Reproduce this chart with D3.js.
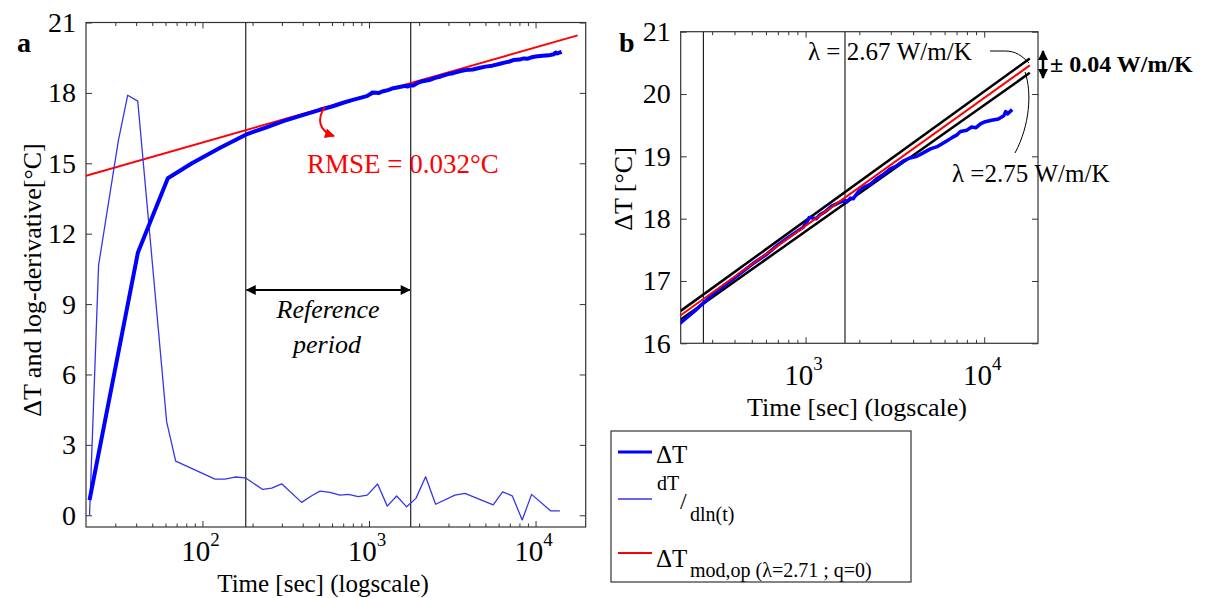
<!DOCTYPE html>
<html><head><meta charset="utf-8">
<script src="https://cdn.jsdelivr.net/npm/d3@7"></script>
<style>
html,body{margin:0;padding:0;background:#fff;}
svg{display:block;font-family:"Liberation Serif","Times New Roman",serif;}
svg text{font-family:"Liberation Serif","Times New Roman",serif;}
</style></head>
<body>
<svg id="chart" width="1214" height="598"></svg>
<script>
// ---------- DATA ----------
const dTTime = [21, 41, 62, 86.5, 127, 182, 200, 240, 306, 400, 508, 600, 700, 800, 900, 968, 1020, 1050, 1100, 1150, 1200, 1300, 1400, 1500, 1656, 1700, 1780, 1850, 1900, 2000, 2100, 2300, 2500, 2700, 2980, 3200, 3500, 3800, 4200, 4581, 5000, 5500, 6197, 6600, 7000, 7356, 8000, 8500, 9000, 9522, 10000, 11000, 12000, 12864, 13200, 13500, 14333];
const dTVal = [0.65, 11.2, 14.36, 15.0, 15.65, 16.22, 16.33, 16.52, 16.8, 17.05, 17.28, 17.42, 17.58, 17.7, 17.8, 17.86, 17.95, 18.02, 18.01, 18.0, 18.06, 18.12, 18.2, 18.24, 18.3, 18.27, 18.33, 18.32, 18.37, 18.45, 18.5, 18.55, 18.64, 18.7, 18.8, 18.84, 18.92, 18.97, 19.0, 19.06, 19.12, 19.16, 19.25, 19.3, 19.34, 19.4, 19.42, 19.47, 19.46, 19.52, 19.55, 19.58, 19.6, 19.65, 19.72, 19.68, 19.75];

const derivTime = [21, 23.8, 31.3, 35.6, 40.9, 61, 69.1, 119, 136.5, 156.7, 181.8, 230, 260.5, 299, 394, 453, 508, 583, 669, 751, 862, 976, 1127, 1287, 1466, 1683, 1913, 2188, 2512, 3281, 3767, 5568, 6342, 7241, 8315, 9467, 12310, 14000];
const derivVal = [0.0, 10.65, 15.98, 17.9, 17.65, 3.98, 2.31, 1.54, 1.54, 1.63, 1.59, 1.10, 1.16, 1.34, 0.55, 0.83, 1.03, 0.98, 0.86, 0.89, 0.79, 0.86, 1.33, 0.39, 0.82, 0.36, 0.72, 1.64, 0.47, 0.86, 0.93, 0.44, 1.0, 0.83, -0.2, 0.89, 0.19, 0.19];

// model line (panel a) endpoints
const modelATime = [20, 17900];
const modelAVal = [14.47, 20.45];
// panel b fitted lines endpoints
const fitBTime = [200, 18000];
const fitRedVal = [16.45, 20.46];
const fitHighVal = [16.52, 20.57];   // lambda = 2.67
const fitLowVal = [16.38, 20.34];    // lambda = 2.75

const refA = [182, 1780];
const refB = [268, 1662];

const yTicksA = [0, 3, 6, 9, 12, 15, 18, 21];
const yTicksB = [16, 17, 18, 19, 20, 21];
const xMajorA = [100, 1000, 10000];
const xMajorB = [1000, 10000];

// ---------- DRAW ----------
const svg = d3.select("#chart");
const AX = "#333";
const FONT = '"Liberation Serif","Times New Roman",serif';

const xA = d3.scaleLog().domain([20, 20000]).range([86, 585.7]);
const yA = d3.scaleLinear().domain([-0.5, 21]).range([527, 22.5]);
const xB = d3.scaleLog().domain([200, 20000]).range([680.7, 1038]);
const yB = d3.scaleLinear().domain([16, 21]).range([343.3, 31.7]);

const defs = svg.append("defs");
function clip(id, x, y) {
  defs.append("clipPath").attr("id", id).append("rect")
    .attr("x", x.range()[0]).attr("y", y.range()[1])
    .attr("width", x.range()[1] - x.range()[0]).attr("height", y.range()[0] - y.range()[1]);
}
clip("clipA", xA, yA); clip("clipB", xB, yB);

function minorTicks(x) {
  const [a, b] = x.domain();
  const out = [];
  for (let p = Math.floor(Math.log10(a)); p <= Math.ceil(Math.log10(b)); p++) {
    for (let m = 2; m <= 9; m++) {
      const v = m * Math.pow(10, p);
      if (v > a && v < b) out.push(v);
    }
  }
  return out;
}

function frame(x, y, yTicks, xMajor, yFont, xLabBase) {
  const g = svg.append("g");
  const x0 = x.range()[0], x1 = x.range()[1], y0 = y.range()[0], y1 = y.range()[1];
  const bottom = g.append("g").attr("transform", `translate(0,${y0})`)
    .call(d3.axisBottom(x).tickValues(xMajor).tickSize(-6).tickFormat(""));
  const bottomMin = g.append("g").attr("transform", `translate(0,${y0})`)
    .call(d3.axisBottom(x).tickValues(minorTicks(x)).tickSize(-3.5).tickFormat(""));
  const top = g.append("g").attr("transform", `translate(0,${y1})`)
    .call(d3.axisTop(x).tickValues(xMajor).tickSize(-6).tickFormat(""));
  const topMin = g.append("g").attr("transform", `translate(0,${y1})`)
    .call(d3.axisTop(x).tickValues(minorTicks(x)).tickSize(-3.5).tickFormat(""));
  const left = g.append("g").attr("transform", `translate(${x0},0)`)
    .call(d3.axisLeft(y).tickValues(yTicks).tickSize(-6).tickPadding(10).tickFormat(d3.format("d")));
  const right = g.append("g").attr("transform", `translate(${x1},0)`)
    .call(d3.axisRight(y).tickValues(yTicks).tickSize(-6).tickFormat(""));
  [bottom, bottomMin, top, topMin, left, right].forEach(a => {
    a.attr("font-family", FONT);
    a.select(".domain").remove();
    a.selectAll("line").attr("stroke", AX).attr("stroke-width", 1);
  });
  left.selectAll("text").attr("font-size", yFont).attr("fill", "#000");
  g.append("rect").attr("x", x0).attr("y", y1).attr("width", x1 - x0).attr("height", y0 - y1)
    .attr("fill", "none").attr("stroke", AX).attr("stroke-width", 1.2);
  xMajor.forEach(v => {
    const t = g.append("text").attr("x", x(v) - 2).attr("y", xLabBase)
      .attr("text-anchor", "middle").attr("font-size", 29).attr("fill", "#000");
    t.append("tspan").text("10");
    t.append("tspan").attr("dy", -15).attr("font-size", 19).text(Math.round(Math.log10(v)));
  });
  return g;
}

function pts(ts, vs) { return ts.map((t, i) => [t, vs[i]]); }

// ---------------- Panel A ----------------
frame(xA, yA, yTicksA, xMajorA, 28, 561);
const pA = svg.append("g").attr("clip-path", "url(#clipA)");
const lineA = d3.line().x(d => xA(d[0])).y(d => yA(d[1]));
refA.forEach(t => pA.append("line").attr("x1", xA(t)).attr("x2", xA(t))
  .attr("y1", yA.range()[0]).attr("y2", yA.range()[1]).attr("stroke", "#222").attr("stroke-width", 1.2));
pA.append("path").datum(pts(modelATime, modelAVal)).attr("d", lineA)
  .attr("fill", "none").attr("stroke", "#ff0000").attr("stroke-width", 2);
pA.append("path").datum(pts(derivTime, derivVal)).attr("d", lineA)
  .attr("fill", "none").attr("stroke", "#3535ea").attr("stroke-width", 1.3).attr("stroke-linejoin", "round");
pA.append("path").datum(pts(dTTime, dTVal)).attr("d", lineA)
  .attr("fill", "none").attr("stroke", "#0000ff").attr("stroke-width", 4).attr("stroke-linejoin", "round");

function marker(id, color, w, h) {
  defs.append("marker").attr("id", id).attr("viewBox", "0 0 10 10").attr("refX", 9).attr("refY", 5)
    .attr("markerWidth", w).attr("markerHeight", h).attr("orient", "auto-start-reverse")
    .attr("markerUnits", "userSpaceOnUse")
    .append("path").attr("d", "M0,0 L10,5 L0,10 z").attr("fill", color);
}
marker("arrBlack", "#000", 14, 10);
marker("arrRed", "#ff0000", 12, 10);
marker("arrBig", "#000", 10, 12);

svg.append("line").attr("x1", xA(refA[0]) + 1).attr("x2", xA(refA[1]) - 1)
  .attr("y1", 290).attr("y2", 290).attr("stroke", "#000").attr("stroke-width", 2)
  .attr("marker-start", "url(#arrBlack)").attr("marker-end", "url(#arrBlack)");
svg.append("text").attr("x", 328).attr("y", 318).attr("text-anchor", "middle")
  .attr("font-style", "italic").attr("font-size", 26).text("Reference");
svg.append("text").attr("x", 327).attr("y", 353).attr("text-anchor", "middle")
  .attr("font-style", "italic").attr("font-size", 26).text("period");

svg.append("path").attr("d", "M325,107 C317,118 318,131 334,136")
  .attr("fill", "none").attr("stroke", "#ff0000").attr("stroke-width", 2)
  .attr("marker-end", "url(#arrRed)");
svg.append("text").attr("x", 307).attr("y", 173).attr("font-size", 27).attr("fill", "#ff0000")
  .text("RMSE = 0.032°C");

svg.append("text").attr("x", 17).attr("y", 52).attr("font-weight", "bold").attr("font-size", 28).text("a");
svg.append("text").attr("x", 323).attr("y", 592).attr("text-anchor", "middle").attr("font-size", 25)
  .text("Time [sec] (logscale)");
svg.append("text").attr("transform", "translate(41,280) rotate(-90)").attr("text-anchor", "middle")
  .attr("font-size", 26).text("ΔT and log-derivative[°C]");

// ---------------- Panel B ----------------
frame(xB, yB, yTicksB, xMajorB, 28, 385);
const pB = svg.append("g").attr("clip-path", "url(#clipB)");
const lineB = d3.line().x(d => xB(d[0])).y(d => yB(d[1]));
refB.forEach(t => pB.append("line").attr("x1", xB(t)).attr("x2", xB(t))
  .attr("y1", yB.range()[0]).attr("y2", yB.range()[1]).attr("stroke", "#222").attr("stroke-width", 1.2));
pB.append("path").datum(pts(fitBTime, fitHighVal)).attr("d", lineB)
  .attr("fill", "none").attr("stroke", "#000").attr("stroke-width", 2.5);
pB.append("path").datum(pts(fitBTime, fitLowVal)).attr("d", lineB)
  .attr("fill", "none").attr("stroke", "#000").attr("stroke-width", 2.5);
pB.append("path").datum(pts(dTTime, dTVal)).attr("d", lineB)
  .attr("fill", "none").attr("stroke", "#0000ff").attr("stroke-width", 3.5).attr("stroke-linejoin", "round");
pB.append("path").datum(pts(fitBTime, fitRedVal)).attr("d", lineB)
  .attr("fill", "none").attr("stroke", "#ff0000").attr("stroke-width", 2);

svg.append("text").attr("x", 619).attr("y", 52).attr("font-weight", "bold").attr("font-size", 28).text("b");
svg.append("text").attr("x", 857).attr("y", 416).attr("text-anchor", "middle").attr("font-size", 26)
  .text("Time [sec] (logscale)");
svg.append("text").attr("transform", "translate(632,189) rotate(-90)").attr("text-anchor", "middle")
  .attr("font-size", 26).text("ΔT [°C]");

svg.append("text").attr("x", 808).attr("y", 60).attr("font-size", 25).text("λ = 2.67 W/m/K");
svg.append("path").attr("d", "M990,51 L1005,51 C1016,51 1022,56 1029,63")
  .attr("fill", "none").attr("stroke", "#000").attr("stroke-width", 1);
svg.append("text").attr("x", 952).attr("y", 182).attr("font-size", 25).text("λ =2.75 W/m/K");
svg.append("path").attr("d", "M1015,153 C1030,125 1032,92 1025,72")
  .attr("fill", "none").attr("stroke", "#000").attr("stroke-width", 1);
svg.append("line").attr("x1", 1043).attr("x2", 1043).attr("y1", 51).attr("y2", 78)
  .attr("stroke", "#000").attr("stroke-width", 2.5)
  .attr("marker-start", "url(#arrBig)").attr("marker-end", "url(#arrBig)");
svg.append("text").attr("x", 1050).attr("y", 72).attr("font-size", 24).attr("font-weight", "bold")
  .text("± 0.04 W/m/K");

// ---------------- Legend ----------------
const lg = svg.append("g");
lg.append("rect").attr("x", 611).attr("y", 431).attr("width", 300).attr("height", 151)
  .attr("fill", "#fff").attr("stroke", AX).attr("stroke-width", 1.2);
lg.append("line").attr("x1", 618).attr("x2", 652).attr("y1", 452).attr("y2", 452)
  .attr("stroke", "#0000ff").attr("stroke-width", 3);
lg.append("text").attr("x", 656).attr("y", 463).attr("font-size", 25).text("ΔT");
lg.append("line").attr("x1", 618).attr("x2", 652).attr("y1", 499).attr("y2", 499)
  .attr("stroke", "#3535ea").attr("stroke-width", 1.3);
lg.append("text").attr("x", 657).attr("y", 490).attr("font-size", 20).text("dT");
lg.append("text").attr("x", 680).attr("y", 509).attr("font-size", 24).text("/");
lg.append("text").attr("x", 690).attr("y", 521).attr("font-size", 20).text("dln(t)");
lg.append("line").attr("x1", 618).attr("x2", 652).attr("y1", 553).attr("y2", 553)
  .attr("stroke", "#ff0000").attr("stroke-width", 2);
lg.append("text").attr("x", 656).attr("y", 567).attr("font-size", 25).text("ΔT");
lg.append("text").attr("x", 690).attr("y", 577).attr("font-size", 20).text("mod,op (λ=2.71 ; q=0)");

svg.selectAll("text").attr("font-family", FONT);
</script>
</body></html>
